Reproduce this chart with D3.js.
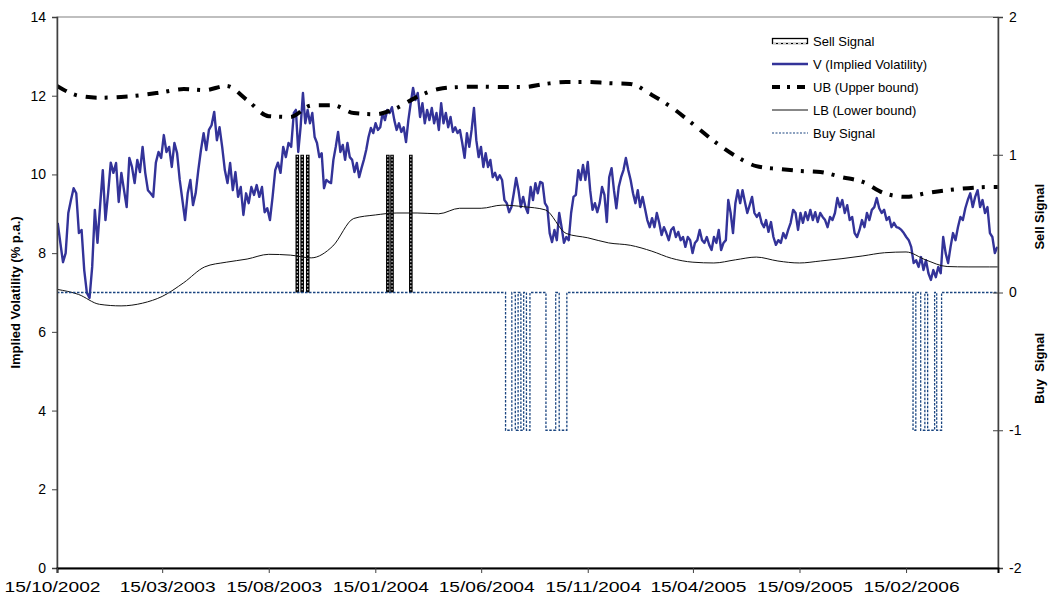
<!DOCTYPE html>
<html>
<head>
<meta charset="utf-8">
<script src="https://cdn.jsdelivr.net/npm/d3@7"></script>
<style>
  body { margin: 0; background: #fff; }
  text { font-family: "Liberation Sans", Arial, sans-serif; }
</style>
</head>
<body>
<svg id="chart" width="1048" height="603"></svg>
<script>
// ---- data ----
const xTickLabels = ["15/10/2002", "15/03/2003", "15/08/2003", "15/01/2004", "15/06/2004",
  "15/11/2004", "15/04/2005", "15/09/2005", "15/02/2006"];
const xStart = "15/10/2002";
const xEnd = "27/06/2006";
const yLeftTicks = [0, 2, 4, 6, 8, 10, 12, 14];
const yRightTicks = [-2, -1, 0, 1, 2];

// implied volatility, read in four stretches of the chart
const vSegments = [
  { from: "16/10/2002", to: "20/09/2003", values: [
    8.77, 8.26, 7.77, 8.0, 9.02, 9.35, 9.65, 9.52, 8.51, 8.59,
    7.57, 6.99, 6.86, 7.65, 9.1, 8.26, 9.22, 10.11, 8.84, 9.52,
    10.3, 10.04, 10.29, 9.3, 10.04, 9.6, 9.17, 10.42, 10.19, 9.78,
    10.37, 10.06, 10.7, 10.04, 9.6, 9.52, 9.43, 10.3, 10.57, 10.42,
    11.0, 10.57, 10.7, 10.19, 10.8, 10.54, 9.86, 9.35, 8.84, 9.52,
    9.86, 9.22, 9.52, 10.11, 10.62, 11.05, 10.62, 11.13, 11.25, 11.59,
    10.87, 11.2, 10.7, 10.11, 9.78, 10.29, 9.6, 10.06, 9.43, 9.68,
    8.97, 9.52, 9.27, 9.68, 9.48, 9.73, 9.43, 9.68, 9.04, 9.14,
    8.84, 9.43, 10.11, 10.3, 10.04, 10.7, 10.44, 10.8, 10.7, 11.56] },
  { from: "23/09/2003", to: "21/08/2004", values: [
    11.64, 10.57, 11.2, 12.07, 11.3, 11.64, 11.3, 11.56, 10.95, 10.8,
    10.44, 10.54, 9.65, 9.86, 9.81, 9.78, 10.37, 10.7, 11.08, 10.57,
    10.75, 10.37, 10.8, 10.44, 10.37, 10.06, 10.29, 9.93, 10.16, 10.37,
    10.62, 10.95, 11.18, 11.05, 11.3, 11.13, 11.2, 11.56, 11.38, 11.64,
    11.56, 11.71, 11.38, 11.13, 11.3, 11.08, 11.2, 10.82, 11.38, 11.81,
    12.2, 11.89, 12.07, 11.46, 11.81, 11.3, 11.64, 11.38, 11.69, 11.3,
    11.56, 11.13, 11.81, 11.3, 11.56, 11.2, 11.46, 11.08, 11.2, 11.05,
    11.13, 10.8, 10.42, 11.05, 10.7, 11.13, 11.69, 10.87, 10.44, 10.7,
    10.19, 10.54, 10.19, 10.37, 9.93, 10.04, 9.86, 9.98, 9.86, 9.35,
    9.27, 9.04, 9.17, 9.52, 9.91, 9.6, 9.17, 9.43, 9.17, 9.02] },
  { from: "25/08/2004", to: "26/07/2005", values: [
    9.68, 9.35, 9.78, 9.52, 9.81, 9.78, 9.27, 9.17, 8.51, 8.28,
    8.59, 8.33, 9.02, 8.66, 8.26, 8.41, 8.33, 9.02, 9.43, 9.48,
    10.11, 9.86, 10.24, 9.86, 10.32, 9.6, 9.1, 9.27, 9.04, 9.27,
    9.68, 9.48, 8.79, 9.93, 10.16, 9.6, 9.14, 9.68, 9.93, 10.11,
    10.42, 10.11, 9.86, 9.52, 9.27, 9.6, 9.17, 9.43, 9.14, 8.84,
    8.66, 8.89, 8.66, 9.02, 8.77, 8.46, 8.66, 8.51, 8.33, 8.59,
    8.66, 8.41, 8.54, 8.33, 8.41, 8.16, 8.41, 8.33, 8.0, 8.26,
    8.33, 8.59, 8.33, 8.26, 8.41, 8.21, 8.08, 8.41, 8.26, 8.59,
    8.08, 8.26, 8.33, 9.35, 9.02, 8.51, 9.27, 9.6, 9.27, 9.6,
    9.3, 9.02, 9.22, 9.43, 9.02, 8.92, 9.02, 8.77, 8.66] },
  { from: "29/07/2005", to: "26/06/2006", values: [
    8.84, 8.54, 8.79, 8.41, 8.21, 8.33, 8.26, 8.51, 8.38, 8.59,
    8.77, 9.1, 9.02, 8.59, 9.02, 8.77, 9.04, 8.84, 9.1, 8.84,
    9.04, 8.79, 9.02, 8.92, 8.84, 8.66, 8.92, 8.84, 9.02, 9.4,
    9.17, 9.35, 9.02, 9.22, 8.84, 8.92, 8.51, 8.41, 8.59, 8.84,
    8.66, 9.02, 8.84, 9.1, 9.17, 9.4, 9.14, 9.02, 9.1, 8.84,
    8.92, 8.66, 8.77, 8.66, 8.64, 8.59, 8.51, 8.41, 8.33, 8.16,
    7.75, 7.82, 7.65, 7.9, 7.57, 7.82, 7.49, 7.32, 7.57, 7.39,
    7.65, 7.49, 8.41, 8.0, 7.75, 8.16, 8.51, 8.33, 8.66, 8.92,
    8.84, 9.14, 9.35, 9.52, 9.17, 9.43, 9.6, 9.17, 9.35, 9.02,
    9.17, 8.51, 8.41, 8.0, 8.16] }
];

// bounds, one value on the 15th of each month from 15/10/2002
const boundStart = "15/10/2002";
const ubValues = [12.25, 12.0, 11.95, 11.97, 12.02, 12.09, 12.17, 12.14, 12.25, 11.89,
  11.48, 11.46, 11.75, 11.76, 11.56, 11.53, 11.69, 11.97, 12.17, 12.22,
  12.23, 12.22, 12.22, 12.3, 12.35, 12.35, 12.32, 12.3, 12.02, 11.71,
  11.28, 10.85, 10.47, 10.21, 10.14, 10.09, 10.06, 9.93, 9.81, 9.52,
  9.43, 9.52, 9.6, 9.65, 9.68, 9.68];
const lbValues = [7.08, 6.95, 6.7, 6.66, 6.73, 6.9, 7.25, 7.65, 7.77, 7.85,
  7.97, 7.95, 7.88, 8.18, 8.88, 8.97, 9.02, 9.02, 9.0, 9.14,
  9.14, 9.22, 9.18, 9.1, 8.5, 8.39, 8.26, 8.2, 8.05, 7.87,
  7.77, 7.75, 7.83, 7.9, 7.8, 7.75, 7.8, 7.86, 7.93, 8.01,
  8.03, 7.83, 7.66, 7.65, 7.65, 7.65];

const sellDates = ["25/09/2003", "02/10/2003", "10/10/2003", "02/02/2004", "08/02/2004", "06/03/2004"];
const buyPeriods = [
  ["20/07/2004", "29/07/2004"], ["03/08/2004", "07/08/2004"], ["11/08/2004", "15/08/2004"],
  ["19/08/2004", "24/08/2004"], ["16/09/2004", "30/09/2004"], ["05/10/2004", "16/10/2004"],
  ["25/02/2006", "01/03/2006"], ["08/03/2006", "14/03/2006"], ["18/03/2006", "28/03/2006"],
  ["31/03/2006", "07/04/2006"]
];

const legendItems = ["Sell Signal", "V (Implied Volatility)", "UB (Upper bound)", "LB (Lower bound)", "Buy Signal"];

// ---- chart ----
const W = 1048, H = 603;
const margin = { top: 17, right: 50, bottom: 35, left: 57 };
const parse = d3.timeParse("%d/%m/%Y");
const svg = d3.select("#chart");
const buyColor = "#1a4580";

const x = d3.scaleTime()
  .domain([parse(xStart), parse(xEnd)])
  .range([margin.left, W - margin.right]);
const yL = d3.scaleLinear().domain([0, 14]).range([H - margin.bottom, margin.top]);
const yR = d3.scaleLinear().domain([-2, 2]).range([H - margin.bottom, margin.top]);

svg.append("clipPath").attr("id", "plot")
  .append("rect")
  .attr("x", margin.left).attr("y", margin.top)
  .attr("width", W - margin.left - margin.right)
  .attr("height", H - margin.top - margin.bottom);

// V series: dates spread evenly inside each stretch
const vData = [];
vSegments.forEach(seg => {
  const t0 = parse(seg.from), t1 = parse(seg.to);
  const n = seg.values.length;
  seg.values.forEach((v, i) => {
    vData.push({ date: new Date(+t0 + (t1 - t0) * i / (n - 1)), value: v });
  });
});
const boundDates = ubValues.map((d, i) => d3.timeMonth.offset(parse(boundStart), i));

const buyData = [{ date: parse(xStart), value: 0 }];
buyPeriods.forEach(p => {
  buyData.push({ date: parse(p[0]), value: 0 }, { date: parse(p[0]), value: -1 },
    { date: parse(p[1]), value: -1 }, { date: parse(p[1]), value: 0 });
});
buyData.push({ date: parse(xEnd), value: 0 });

const plot = svg.append("g").attr("clip-path", "url(#plot)");

// sell signal columns
const sell = plot.append("g");
sellDates.map(parse).forEach(d => {
  sell.append("rect")
    .attr("x", x(d) - 1.8).attr("width", 3.6)
    .attr("y", yR(1)).attr("height", yR(0) - yR(1))
    .attr("fill", "#000");
  sell.append("line")
    .attr("x1", x(d)).attr("x2", x(d))
    .attr("y1", yR(1) + 1).attr("y2", yR(0))
    .attr("stroke", "#fff").attr("stroke-width", 1.1)
    .attr("stroke-dasharray", "1.5,2");
});

const lineL = d3.line().x(d => x(d.date)).y(d => yL(d.value));
const lineR = d3.line().x(d => x(d.date)).y(d => yR(d.value));

plot.append("path").datum(vData)
  .attr("d", lineL).attr("fill", "none")
  .attr("stroke", "#333399").attr("stroke-width", 2.4)
  .attr("stroke-linejoin", "round");

plot.append("path")
  .datum(ubValues.map((v, i) => ({ date: boundDates[i], value: v })))
  .attr("d", lineL.curve(d3.curveMonotoneX)).attr("fill", "none")
  .attr("stroke", "#000").attr("stroke-width", 4)
  .attr("stroke-dasharray", "11,8,3,9");

plot.append("path")
  .datum(lbValues.map((v, i) => ({ date: boundDates[i], value: v })))
  .attr("d", lineL.curve(d3.curveMonotoneX)).attr("fill", "none")
  .attr("stroke", "#111").attr("stroke-width", 1);

plot.append("path").datum(buyData)
  .attr("d", lineR).attr("fill", "none")
  .attr("stroke", buyColor).attr("stroke-width", 1.3)
  .attr("stroke-dasharray", "2.5,1.5");

// frame
svg.append("rect")
  .attr("x", margin.left).attr("y", margin.top)
  .attr("width", W - margin.left - margin.right)
  .attr("height", H - margin.top - margin.bottom)
  .attr("fill", "none").attr("stroke", "#808080").attr("stroke-width", 1);

// axes
const axL = svg.append("g")
  .attr("transform", `translate(${margin.left},0)`)
  .call(d3.axisLeft(yL).tickValues(yLeftTicks).tickSize(5).tickPadding(6));
const axR = svg.append("g")
  .attr("transform", `translate(${W - margin.right},0)`)
  .call(d3.axisRight(yR).tickValues(yRightTicks).tickFormat(d => String(d))
    .tickSize(5).tickPadding(6));
axR.selectAll(".tick line").attr("x1", -5);
const axB = svg.append("g")
  .attr("transform", `translate(0,${H - margin.bottom})`)
  .call(d3.axisBottom(x).tickValues(xTickLabels.map(parse))
    .tickFormat(d3.timeFormat("%d/%m/%Y")).tickSize(5).tickPadding(9));

[axL, axR, axB].forEach(g => {
  g.selectAll(".domain").attr("stroke", "#404040").attr("stroke-width", 1.5);
  g.selectAll(".tick line").attr("stroke", "#404040");
  g.selectAll("text").attr("font-size", 14).attr("fill", "#000")
    .style("font-family", '"Liberation Sans", Arial, sans-serif');
});
axB.select(".domain").attr("stroke", "#000").attr("stroke-width", 2);
// the date labels in the original are drawn wide
axB.selectAll(".tick text")
  .attr("dx", (d, i) => i === 0 ? -5 : 5)
  .attr("textLength", 96).attr("lengthAdjust", "spacingAndGlyphs");

// axis titles
svg.append("text")
  .attr("transform", `translate(20,${(margin.top + H - margin.bottom) / 2}) rotate(-90)`)
  .attr("text-anchor", "middle").attr("font-size", 13).attr("font-weight", "bold")
  .text("Implied Volatility (% p.a.)");
svg.append("text")
  .attr("transform", `translate(1044,${yR(0.55)}) rotate(-90)`)
  .attr("text-anchor", "middle").attr("font-size", 13).attr("font-weight", "bold")
  .text("Sell Signal");
svg.append("text")
  .attr("transform", `translate(1044,${yR(-0.55)}) rotate(-90)`)
  .attr("text-anchor", "middle").attr("font-size", 13).attr("font-weight", "bold")
  .attr("xml:space", "preserve")
  .text("Buy  Signal");

// legend
const lg = svg.append("g").attr("transform", "translate(772,41)");
legendItems.forEach((name, i) => {
  const row = lg.append("g").attr("transform", `translate(0,${i * 23})`);
  if (i === 0) {
    row.append("rect").attr("x", 0.5).attr("y", -2.5).attr("width", 35).attr("height", 5)
      .attr("fill", "#fff").attr("stroke", "#000").attr("stroke-width", 1.3);
    row.append("line").attr("x1", 1).attr("x2", 35).attr("y1", 2.5).attr("y2", 2.5)
      .attr("stroke", "#fff").attr("stroke-width", 0.8).attr("stroke-dasharray", "3,2");
  } else if (i === 1) {
    row.append("line").attr("x1", 0).attr("x2", 36).attr("stroke", "#333399").attr("stroke-width", 2.4);
  } else if (i === 2) {
    row.append("line").attr("x1", 0).attr("x2", 36).attr("stroke", "#000").attr("stroke-width", 4)
      .attr("stroke-dasharray", "8,7,3,7");
  } else if (i === 3) {
    row.append("line").attr("x1", 0).attr("x2", 36).attr("stroke", "#111").attr("stroke-width", 1);
  } else {
    row.append("line").attr("x1", 0).attr("x2", 36).attr("stroke", buyColor).attr("stroke-width", 1.1)
      .attr("stroke-dasharray", "2,1.5");
  }
  row.append("text").attr("x", 41).attr("y", 0).attr("dy", "0.35em")
    .attr("font-size", 13).text(name);
});
</script>
</body>
</html>
